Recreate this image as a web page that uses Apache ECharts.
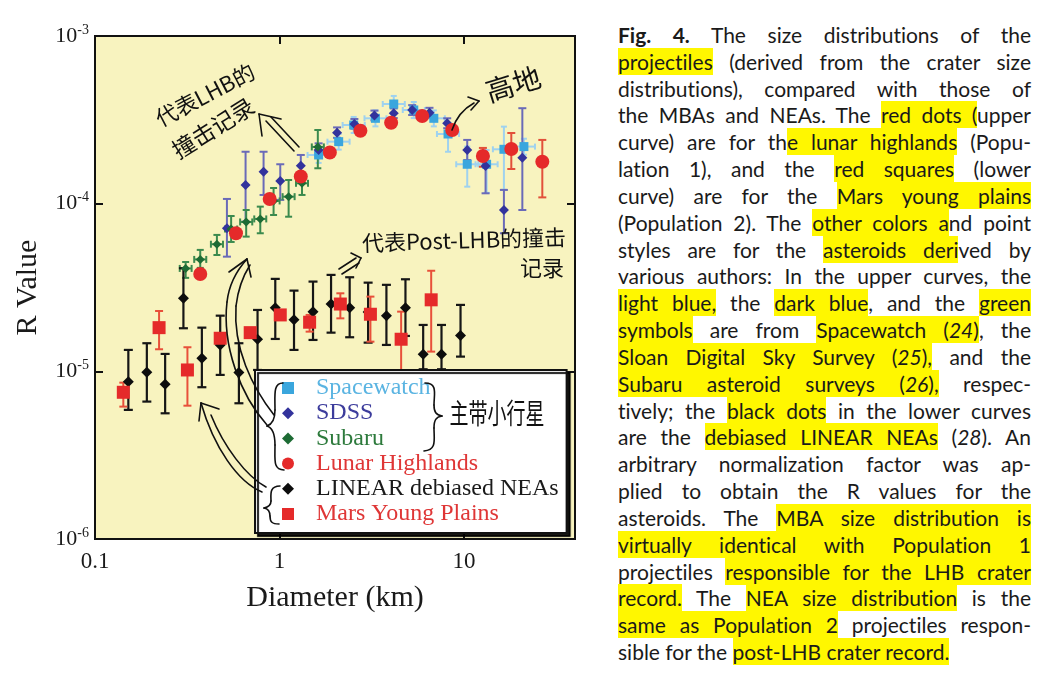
<!DOCTYPE html>
<html>
<head>
<meta charset="utf-8">
<script src="https://cdn.jsdelivr.net/npm/echarts@6/dist/echarts.min.js"></script>
<style>
html,body{margin:0;padding:0;background:#fff;width:1044px;height:676px;overflow:hidden}
#chart{position:absolute;left:0;top:0;width:600px;height:676px}
#cap{position:absolute;left:618px;top:22px;width:413px;font-family:Lato,"Open Sans",sans-serif;font-size:21px;line-height:26.83px;color:#1a1a1a;font-variant-ligatures:none}
#cap .ln{text-align:justify;text-align-last:justify;height:26.83px}
#cap .ln.last{text-align-last:left}
#cap .h{background:#fff700;padding:1px 0}
</style>
</head>
<body>
<div id="chart"></div>
<div id="cap">
<div class="ln"><b>Fig. 4.</b> The size distributions of the</div>
<div class="ln"><span class="h">projectiles</span> (derived from the crater size</div>
<div class="ln">distributions), compared with those of</div>
<div class="ln">the MBAs and NEAs. The <span class="h">red dots (</span>upper</div>
<div class="ln">curve) are for th<span class="h">e lunar highlands</span> (Popu-</div>
<div class="ln">lation 1), and the <span class="h">red squares</span> (lower</div>
<div class="ln">curve) are for the <span class="h">Mars young plains</span></div>
<div class="ln">(Population 2). The <span class="h">other colors a</span>nd point</div>
<div class="ln">styles are for the <span class="h">asteroids deri</span>ved by</div>
<div class="ln">various authors: In the upper curves, the</div>
<div class="ln"><span class="h">light blue,</span> the <span class="h">dark blue</span>, and the <span class="h">green</span></div>
<div class="ln"><span class="h">symbols</span> are from <span class="h">Spacewatch (<i>24</i>)</span>, the</div>
<div class="ln"><span class="h">Sloan Digital Sky Survey (<i>25</i>),</span> and the</div>
<div class="ln"><span class="h">Subaru asteroid surveys (<i>26</i>),</span> respec-</div>
<div class="ln">tively; the <span class="h">black dots</span> in the lower curves</div>
<div class="ln">are the <span class="h">debiased LINEAR NEAs</span> (<i>28</i>). An</div>
<div class="ln">arbitrary normalization factor was ap-</div>
<div class="ln">plied to obtain the R values for the</div>
<div class="ln">asteroids. The <span class="h">MBA size distribution is</span></div>
<div class="ln"><span class="h">virtually identical with Population 1</span></div>
<div class="ln">projectiles <span class="h">responsible for the LHB crater</span></div>
<div class="ln"><span class="h">record.</span> The <span class="h">NEA size distribution</span> is the</div>
<div class="ln"><span class="h">same as Population 2</span> projectiles respon-</div>
<div class="ln last">sible for the <span class="h">post-LHB crater record.</span></div>
</div>
<script>
// ---------- DATA ----------
// tick labels
const xTickValues = [0.1, 1, 10];
const xTickLabels = ['0.1', '1', '10'];
const yTickValues = [1e-6, 1e-5, 1e-4, 1e-3];
const yTickExponents = ['-6', '-5', '-4', '-3'];

// [diameter km, R, R low, R high, D low, D high]
const spacewatch = [
  [1.630, 1.952e-4, 1.75e-4, 2.18e-4, 1.42, 1.87],
  [2.094, 2.343e-4, 2.10e-4, 2.61e-4, 1.82, 2.40],
  [2.525, 2.946e-4, 2.64e-4, 3.29e-4, 2.20, 2.90],
  [3.313, 3.229e-4, 2.89e-4, 3.60e-4, 2.89, 3.80],
  [4.164, 3.93e-4, 3.52e-4, 4.39e-4, 3.63, 4.78],
  [5.346, 3.62e-4, 3.24e-4, 4.04e-4, 4.66, 6.14],
  [6.866, 3.229e-4, 2.89e-4, 3.60e-4, 5.98, 7.88],
  [8.20, 2.603e-4, 2.04e-4, 2.94e-4, 7.14, 9.41],
  [10.42, 1.718e-4, 1.263e-4, 2.19e-4, 9.08, 11.96],
  [13.27, 1.718e-4, 1.16e-4, 2.09e-4, 11.56, 15.23],
  [16.47, 2.11e-4, 1.21e-4, 2.88e-4, 14.35, 18.91],
  [21.14, 2.19e-4, 1.96e-4, 2.44e-4, 18.41, 24.27]
];
// [diameter km, R, R low, R high]
const sdss = [
  [0.519, 7.13e-5, 4.83e-5, 1.067e-4],
  [0.655, 1.292e-4, 7.81e-5, 2.04e-4],
  [0.820, 1.552e-4, 1.127e-4, 2.04e-4],
  [1.010, 1.365e-4, 1.053e-4, 1.718e-4],
  [1.305, 1.685e-4, 1.449e-4, 1.952e-4],
  [1.630, 2.09e-4, 1.91e-4, 2.29e-4],
  [2.052, 2.65e-4, 2.47e-4, 2.85e-4],
  [2.547, 2.99e-4, 2.80e-4, 3.20e-4],
  [3.272, 3.357e-4, 3.14e-4, 3.59e-4],
  [4.164, 3.46e-4, 3.24e-4, 3.70e-4],
  [5.240, 3.62e-4, 3.38e-4, 3.87e-4],
  [6.505, 3.487e-4, 3.26e-4, 3.73e-4],
  [8.115, 3.015e-4, 2.82e-4, 3.23e-4],
  [10.42, 2.09e-4, 1.82e-4, 2.40e-4],
  [13.10, 1.678e-4, 1.153e-4, 1.907e-4],
  [16.47, 9.17e-5, 6.66e-5, 1.208e-4],
  [20.73, 1.88e-4, 9.17e-5, 3.71e-4]
];
// [diameter km, R, R low, R high, D low, D high]
const subaru = [
  [0.310, 4.11e-5, 3.61e-5, 4.49e-5, 0.288, 0.334],
  [0.372, 4.65e-5, 4.14e-5, 5.30e-5, 0.345, 0.401],
  [0.458, 5.73e-5, 4.94e-5, 6.51e-5, 0.425, 0.494],
  [0.547, 7.06e-5, 5.91e-5, 8.44e-5, 0.507, 0.590],
  [0.660, 7.78e-5, 6.36e-5, 9.17e-5, 0.612, 0.712],
  [0.787, 8.11e-5, 6.66e-5, 9.60e-5, 0.730, 0.848],
  [0.929, 1.038e-4, 8.56e-5, 1.240e-4, 0.862, 1.002],
  [1.121, 1.101e-4, 8.36e-5, 1.384e-4, 1.040, 1.208],
  [1.325, 1.323e-4, 1.127e-4, 1.524e-4, 1.229, 1.428],
  [1.614, 2.18e-4, 1.626e-4, 2.75e-4, 1.497, 1.740]
];
// [diameter km, R, R low, R high]
const lunarHighlands = [
  [0.372, 3.81e-5, 0, 0],
  [0.581, 6.66e-5, 0, 0],
  [0.885, 1.067e-4, 0, 0],
  [1.305, 1.453e-4, 0, 0],
  [1.875, 2.02e-4, 0, 0],
  [2.746, 2.72e-4, 0, 0],
  [4.03, 3.04e-4, 0, 0],
  [5.94, 3.33e-4, 0, 0],
  [8.64, 2.75e-4, 0, 0],
  [12.67, 1.925e-4, 1.66e-4, 2.15e-4],
  [18.06, 2.12e-4, 1.61e-4, 2.64e-4],
  [26.6, 1.78e-4, 1.09e-4, 2.40e-4]
];
const linearNEAs = [
  [0.1516, 8.68e-6, 5.89e-6, 1.342e-5],
  [0.191, 9.88e-6, 6.60e-6, 1.471e-5],
  [0.240, 8.38e-6, 5.62e-6, 1.270e-5],
  [0.3015, 2.73e-5, 1.807e-5, 4.12e-5],
  [0.3796, 1.197e-5, 8.04e-6, 1.822e-5],
  [0.4773, 1.437e-5, 9.52e-6, 2.148e-5],
  [0.6027, 9.85e-6, 6.45e-6, 1.471e-5],
  [0.7606, 1.554e-5, 1.019e-5, 2.323e-5],
  [0.949, 2.398e-5, 1.56e-5, 3.56e-5],
  [1.199, 2.033e-5, 1.342e-5, 3.03e-5],
  [1.520, 2.27e-5, 1.539e-5, 3.43e-5],
  [1.904, 2.52e-5, 1.701e-5, 3.76e-5],
  [2.402, 2.398e-5, 1.597e-5, 3.64e-5],
  [3.024, 2.26e-5, 1.483e-5, 3.38e-5],
  [3.800, 2.148e-5, 1.437e-5, 3.28e-5],
  [4.819, 2.398e-5, 1.626e-5, 3.54e-5],
  [6.012, 1.265e-5, 1.029e-5, 1.891e-5],
  [7.557, 1.265e-5, 1.029e-5, 1.891e-5],
  [9.583, 1.633e-5, 1.224e-5, 2.49e-5]
];
const marsYoungPlains = [
  [0.1424, 7.50e-6, 6.16e-6, 8.56e-6],
  [0.2225, 1.822e-5, 1.354e-5, 2.29e-5],
  [0.317, 1.019e-5, 6.24e-6, 1.392e-5],
  [0.4773, 1.575e-5, 1.47e-5, 1.69e-5],
  [0.694, 1.701e-5, 0, 0],
  [1.010, 2.17e-5, 0, 0],
  [1.457, 1.963e-5, 1.725e-5, 2.17e-5],
  [2.138, 2.52e-5, 2.07e-5, 2.92e-5],
  [3.112, 2.19e-5, 1.503e-5, 2.79e-5],
  [4.566, 1.554e-5, 9.92e-6, 2.27e-5],
  [6.644, 2.67e-5, 1.311e-5, 3.98e-5]
];

// ---------- CHART ----------
const SERIF = '"Liberation Serif","Times New Roman",serif';
const HAND = '"Noto Sans CJK SC",sans-serif';

function errorBars(name, rows, color, lineWidth, cap, z) {
  return {
    type: 'custom', name: name, z: z, silent: true,
    dimensions: ['d', 'r', 'rlo', 'rhi', 'dlo', 'dhi'],
    encode: { x: 0, y: 1 },
    data: rows.map(r => [r[0], r[1], r[2] || 0, r[3] || 0, r[4] || 0, r[5] || 0]),
    renderItem: function (params, api) {
      const d = api.value(0), r = api.value(1), rlo = api.value(2), rhi = api.value(3),
            dlo = api.value(4), dhi = api.value(5);
      const st = { stroke: color, lineWidth: lineWidth, fill: null };
      const ch = [];
      const seg = (x1, y1, x2, y2) => ch.push({ type: 'line', shape: { x1, y1, x2, y2 }, style: st });
      if (rlo > 0 && rhi > 0) {
        const a = api.coord([d, rlo]), b = api.coord([d, rhi]);
        seg(a[0], a[1], b[0], b[1]);
        seg(a[0] - cap / 2, a[1], a[0] + cap / 2, a[1]);
        seg(b[0] - cap / 2, b[1], b[0] + cap / 2, b[1]);
      }
      if (dlo > 0 && dhi > 0) {
        const a = api.coord([dlo, r]), b = api.coord([dhi, r]);
        seg(a[0], a[1], b[0], b[1]);
        seg(a[0], a[1] - cap / 2, a[0], a[1] + cap / 2);
        seg(b[0], b[1] - cap / 2, b[0], b[1] + cap / 2);
      }
      return { type: 'group', children: ch };
    }
  };
}
function points(name, rows, symbol, size, color, z) {
  return {
    type: 'scatter', name: name, symbol: symbol, symbolSize: size, z: z,
    data: rows.map(r => [r[0], r[1]]),
    itemStyle: { color: color, opacity: 1 },
    emphasis: { disabled: true }
  };
}
function xLabel(v) {
  for (let i = 0; i < xTickValues.length; i++) {
    if (Math.abs(Math.log10(v) - Math.log10(xTickValues[i])) < 1e-6) return xTickLabels[i];
  }
  return '';
}
function yLabel(v) {
  for (let i = 0; i < yTickValues.length; i++) {
    if (Math.abs(Math.log10(v) - Math.log10(yTickValues[i])) < 1e-6) return '{b|10}{s|' + yTickExponents[i] + '}';
  }
  return '';
}

const axisLineStyle = { color: '#111', width: 2 };
const tickStyle = { inside: true, length: 8, lineStyle: { color: '#111', width: 2 } };

// hand-drawn annotation strokes: "M x,y L x,y C x,y x,y x,y" strings -> graphic lines / bezier curves
function strokes(d) {
  const out = [];
  const tk = d.replace(/([MLC])/g, ' $1 ').replace(/,/g, ' ').trim().split(/\s+/);
  let i = 0, cx = 0, cy = 0, cmd = 'M';
  while (i < tk.length) {
    if (/^[MLC]$/.test(tk[i])) { cmd = tk[i]; i++; continue; }
    const st = { stroke: '#111', lineWidth: 1.6, fill: null, lineCap: 'round' };
    if (cmd === 'M') { cx = +tk[i]; cy = +tk[i + 1]; i += 2; cmd = 'L'; }
    else if (cmd === 'L') {
      const x = +tk[i], y = +tk[i + 1]; i += 2;
      out.push({ type: 'line', silent: true, z: 100, shape: { x1: cx, y1: cy, x2: x, y2: y }, style: st });
      cx = x; cy = y;
    } else if (cmd === 'C') {
      const a = tk.slice(i, i + 6).map(Number); i += 6;
      out.push({ type: 'bezierCurve', silent: true, z: 100,
        shape: { x1: cx, y1: cy, cpx1: a[0], cpy1: a[1], cpx2: a[2], cpy2: a[3], x2: a[4], y2: a[5] }, style: st });
      cx = a[4]; cy = a[5];
    }
  }
  return out;
}
function hand(text, x, y, size, rot, extra) {
  return Object.assign({
    type: 'text', silent: true, z: 100, x: x, y: y, rotation: rot || 0,
    style: { text: text, fontFamily: HAND, fontSize: size, fill: '#111', align: 'center', verticalAlign: 'middle' }
  }, extra || {});
}

const graphics = [].concat(
  [hand('代表LHB的', 205, 95, 22, 0.48),
   hand('撞击记录', 213, 128, 23, 0.56),
   hand('高地', 513, 84, 28, 0.3),
   hand('代表Post-LHB的撞击', 464, 240, 22, 0.03),
   hand('记录', 542, 268, 22, 0),
   hand('主带小行星', 497, 413, 19, 0, { scaleY: 1.5 })],
  strokes('M262,136 L259,114 L281,119 M266,121 L294,151 M271,117 L299,147'),
  strokes('M452,130 C456,118 463,109 474,103 M468,97 L479,101 L471,110'),
  strokes('M339,269 L356,258 M342,274 L359,263 M351,253 L361,258 L356,268'),
  strokes('M425,383 C438,383 434,394 434,405 C434,412 436,415 442,416 C436,417 434,420 434,428 C434,440 437,450 424,451'),
  strokes('M283,383 C273,383 275,395 275,410 C275,419 273,424 267,426 C273,428 275,434 275,445 C275,460 273,470 284,470'),
  strokes('M280,486 C269,486 271,495 271,501 C271,505 269,507 264,508 C269,509 270,512 270,516 C270,522 272,524 279,524'),
  strokes('M267,425 C240,395 222,345 227,302 C229,284 238,269 247,259 M274,415 C252,387 233,348 236,306 C238,289 243,276 250,265 M229,272 L247,259 L251,277'),
  strokes('M262,492 C238,482 214,448 201,403 M266,487 C246,476 224,447 211,415 M219,409 L201,403 L199,421')
);

const option = {
  animation: false,
  backgroundColor: '#ffffff',
  grid: { left: 95, top: 36, width: 480, height: 503, show: true, backgroundColor: '#f8f3bf', borderColor: '#111', borderWidth: 2 },
  xAxis: [
    {
      type: 'log', logBase: 10, min: 0.1, max: 40, position: 'bottom',
      name: 'Diameter (km)', nameLocation: 'middle', nameGap: 44,
      nameTextStyle: { fontFamily: SERIF, fontSize: 30, color: '#1a1a1a' },
      axisLine: { show: true, lineStyle: axisLineStyle }, axisTick: tickStyle,
      axisLabel: { formatter: xLabel, fontFamily: SERIF, fontSize: 23, color: '#1a1a1a', margin: 11 },
      splitLine: { show: false }, minorTick: { show: false }
    },
    {
      type: 'log', logBase: 10, min: 0.1, max: 40, position: 'top',
      axisLine: { show: true, lineStyle: axisLineStyle }, axisTick: tickStyle,
      axisLabel: { show: false }, splitLine: { show: false }
    }
  ],
  yAxis: [
    {
      type: 'log', logBase: 10, min: 1e-6, max: 1e-3, position: 'left',
      name: 'R Value', nameLocation: 'middle', nameGap: 52,
      nameTextStyle: { fontFamily: SERIF, fontSize: 30, color: '#1a1a1a' },
      axisLine: { show: true, lineStyle: axisLineStyle }, axisTick: tickStyle,
      axisLabel: {
        formatter: yLabel, margin: 6,
        rich: {
          b: { fontFamily: SERIF, fontSize: 22, lineHeight: 22, color: '#1a1a1a' },
          s: { fontFamily: SERIF, fontSize: 14, lineHeight: 14, padding: [0, 0, 12, 0], color: '#1a1a1a' }
        }
      },
      splitLine: { show: false }, minorTick: { show: false }
    },
    {
      type: 'log', logBase: 10, min: 1e-6, max: 1e-3, position: 'right',
      axisLine: { show: true, lineStyle: axisLineStyle }, axisTick: tickStyle,
      axisLabel: { show: false }, splitLine: { show: false }
    }
  ],
  legend: {
    show: true, orient: 'vertical', left: 255, top: 370, selectedMode: false,
    data: [
      { name: 'Spacewatch', textStyle: { color: '#5ab4e2' } },
      { name: 'SDSS', textStyle: { color: '#3c3c9c' } },
      { name: 'Subaru', textStyle: { color: '#2d7a3c' } },
      { name: 'Lunar Highlands', textStyle: { color: '#df3636' } },
      { name: 'LINEAR debiased NEAs', textStyle: { color: '#1a1a1a' } },
      { name: 'Mars Young Plains', textStyle: { color: '#df3636' } }
    ],
    itemWidth: 12, itemHeight: 12, itemGap: 1.2,
    textStyle: { fontFamily: SERIF, fontSize: 24, lineHeight: 24, padding: [0, 0, 0, 17] },
    backgroundColor: '#ffffff', borderColor: '#111', borderWidth: 2, borderRadius: 0,
    padding: [6, 8, 7, 27],
    shadowColor: 'rgba(0,0,0,0.9)', shadowOffsetX: 3, shadowOffsetY: 3, shadowBlur: 1
  },
  series: [
    errorBars('Spacewatch bars', spacewatch, '#9fd2ef', 2, 6, 2),
    errorBars('SDSS bars', sdss, '#6a6ab8', 2, 8, 2),
    errorBars('Subaru bars', subaru, '#3b8a4e', 2, 7, 2),
    errorBars('Lunar bars', lunarHighlands, '#e2503a', 2, 8, 2),
    errorBars('LINEAR bars', linearNEAs, '#161616', 2.2, 9, 2),
    errorBars('Mars bars', marsYoungPlains, '#e8503a', 2, 8, 2),
    points('Spacewatch', spacewatch, 'rect', 9, '#3aa6dd', 3),
    points('SDSS', sdss, 'diamond', 10, '#33339c', 4),
    points('Subaru', subaru, 'diamond', 9, '#1d6b34', 4),
    points('Lunar Highlands', lunarHighlands, 'circle', 14, '#e52a2a', 5),
    points('LINEAR debiased NEAs', linearNEAs, 'diamond', 11, '#0d0d0d', 5),
    points('Mars Young Plains', marsYoungPlains, 'rect', 13, '#e52a2a', 6)
  ],
  graphic: graphics
};

const chart = echarts.init(document.getElementById('chart'), null, { renderer: 'canvas' });
chart.setOption(option);

// ---------- caption line fitting ----------
(function fitCaption() {
  const W = 413;
  document.querySelectorAll('#cap .ln').forEach(el => {
    const probe = el.cloneNode(true);
    probe.style.cssText = 'position:absolute;visibility:hidden;white-space:nowrap;display:inline-block;width:auto;text-align:left;text-align-last:left';
    document.getElementById('cap').appendChild(probe);
    const w = probe.getBoundingClientRect().width;
    probe.remove();
    if (w > W - 1) {
      const n = el.textContent.length;
      el.style.letterSpacing = ((W - 2 - w) / n).toFixed(3) + 'px';
    }
  });
})();
</script>
</body>
</html>
